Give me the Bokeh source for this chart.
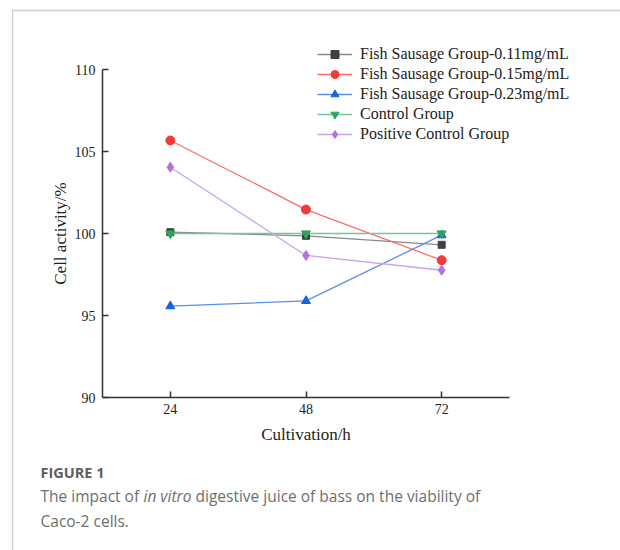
from bokeh.plotting import figure
from bokeh.models import Legend, LegendItem, Label, PolyAnnotation, FixedTicker, Range1d, LinearAxis
from bokeh.embed import file_html
from bokeh.resources import INLINE

hours = [24, 48, 72]
series_names = [
    "Fish Sausage Group-0.11mg/mL",
    "Fish Sausage Group-0.15mg/mL",
    "Fish Sausage Group-0.23mg/mL",
    "Control Group",
    "Positive Control Group",
]
g011 = [100.08, 99.86, 99.31]
g015 = [105.67, 101.46, 98.37]
g023 = [95.57, 95.89, 99.90]
control = [100.0, 100.0, 100.0]
positive = [104.04, 98.66, 97.76]
y_ticks = [90, 95, 100, 105, 110]
x_bounds = (12, 84)
y_bounds = (90, 110)

values = [g011, g015, g023, control, positive]
line_colors = ["#8a8a8a", "#ff6b6b", "#5b8fe6", "#6ccc94", "#c9a2ea"]
marker_colors = ["#404040", "#f23a3a", "#1763e2", "#2ea55e", "#b273dd"]
markers = ["square", "circle", "triangle", "inverted_triangle", "diamond"]
msizes = [7, 9, 9, 9, 10]

SERIF = "Liberation Serif"
W, H = 620, 550
# axis box in page pixels
AX_L, AX_R, AX_T, AX_B = 102, 509, 69, 397
xs_per_px = (x_bounds[1] - x_bounds[0]) / (AX_R - AX_L)
ys_per_px = (y_bounds[1] - y_bounds[0]) / (AX_B - AX_T)
xr = Range1d(x_bounds[0] - AX_L * xs_per_px, x_bounds[1] + (W - AX_R) * xs_per_px)
yr = Range1d(y_bounds[0] - (H - AX_B) * ys_per_px, y_bounds[1] + AX_T * ys_per_px)

p = figure(width=W, height=H, output_backend="svg", toolbar_location=None,
           x_range=xr, y_range=yr, x_axis_location=None, y_axis_location=None,
           min_border=0)
p.outline_line_color = None
p.xgrid.grid_line_color = None
p.ygrid.grid_line_color = None
p.background_fill_color = "white"
p.border_fill_color = "white"

xaxis = LinearAxis(fixed_location=y_bounds[0], bounds=x_bounds,
                   ticker=FixedTicker(ticks=hours), axis_label="Cultivation/h")
yaxis = LinearAxis(fixed_location=x_bounds[0], bounds=y_bounds,
                   ticker=FixedTicker(ticks=y_ticks), axis_label="Cell activity/%")
for ax in (xaxis, yaxis):
    ax.axis_line_color = "#333333"
    ax.axis_line_width = 1.5
    ax.major_tick_line_color = "#333333"
    ax.major_tick_line_width = 1.5
    ax.major_tick_in = 6
    ax.major_tick_out = 0
    ax.minor_tick_line_color = None
    ax.major_label_text_font = SERIF
    ax.major_label_text_font_size = "14px"
    ax.major_label_text_color = "#222222"
    ax.axis_label_text_font = SERIF
    ax.axis_label_text_font_size = "17px"
    ax.axis_label_text_font_style = "normal"
    ax.axis_label_text_color = "#222222"
xaxis.major_label_standoff = 6
xaxis.axis_label_standoff = 8
yaxis.major_label_standoff = 7
yaxis.axis_label_standoff = 2
p.add_layout(xaxis, "below")
p.add_layout(yaxis, "left")

items = []
for name, vals, lc, mc, mk, ms in zip(series_names, values, line_colors, marker_colors, markers, msizes):
    l = p.line(hours, vals, line_color=lc, line_width=1.3)
    s = p.scatter(hours, vals, marker=mk, size=ms, fill_color=mc, line_color=mc)
    items.append(LegendItem(label=name, renderers=[l, s]))

legend = Legend(items=items, location=(317, H - 144), orientation="vertical",
                glyph_width=35, glyph_height=20, label_height=20, spacing=0,
                padding=0, margin=0, label_standoff=8,
                label_text_font=SERIF, label_text_font_size="16px", label_text_color="#222222",
                border_line_alpha=0, background_fill_alpha=0)
p.add_layout(legend, "center")

# outer figure frame (top and left edges of the article box)
frame = PolyAnnotation(xs=[12, 12, 700, 700], ys=[-50, H - 10, H - 10, -50],
                       xs_units="screen", ys_units="screen",
                       fill_alpha=0, line_color="#555555", line_width=1.3)
p.add_layout(frame)

SANS = "Open Sans"
cap_color = "#6e6e6e"
def cap(x, y, text, size="15.5px", style="normal", color=cap_color):
    p.add_layout(Label(x=x, y=H - y, x_units="screen", y_units="screen", text=text,
                       text_font=SANS, text_font_size=size, text_font_style=style,
                       text_color=color, text_baseline="middle"))

cap(40, 472, "FIGURE 1", "14.5px", "bold", "#5e5e5e")
cap(40, 495, "The impact of")
cap(143, 495, "in vitro", style="italic")
cap(195, 495, "digestive juice of bass on the viability of")
cap(40, 520, "Caco-2 cells.")

open("out.html", "w").write(file_html(p, INLINE))
